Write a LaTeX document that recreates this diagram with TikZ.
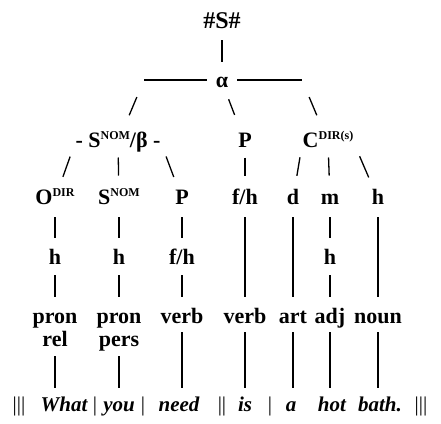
\documentclass[tikz,border=0pt]{standalone}
\usepackage{fontspec}
\setmainfont{Liberation Serif}
\newcommand{\supc}[1]{\raisebox{7.5pt}{\fontsize{12}{12}\selectfont\bfseries #1}}

\begin{document}
\begin{tikzpicture}[x=1pt, y=-1pt,
  lbl/.style ={font=\fontsize{22}{25}\selectfont\bfseries, anchor=base,
               text height=15pt, text depth=5pt, inner sep=0pt},
  wrd/.style ={lbl, font=\fontsize{21}{25}\selectfont\bfseries\itshape},
  bar/.style ={lbl, font=\fontsize{21}{25}\selectfont},
  ln/.style  ={line width=1.3pt},
  vl/.style 2 args={ln, shorten <=#1, shorten >=#2},
  tick/.style ={ln, shorten <=18.5pt, shorten >=29pt},
  tick2/.style={ln, shorten <=15.5pt, shorten >=23.5pt}
]
  \useasboundingbox (0,0) rectangle (441,423);

  % top of the tree
  \node[lbl, font=\fontsize{24}{25}\selectfont\bfseries] (root) at (222,28) {\#S\#};
  \node[lbl] (alpha) at (222,87) {α};
  \coordinate (barL) at (144,80);
  \coordinate (barR) at (302,80);

  \node[lbl] (SB) at (118,147) {- S\supc{NOM}/β -};
  \node[lbl] (P)  at (245,147) {P};
  \node[lbl] (C)  at (328,147) {C\supc{DIR(s)}};

  % functions
  \node[lbl] (OD) at (55,204)  {O\supc{DIR}};
  \node[lbl] (SN) at (119,204) {S\supc{NOM}};
  \node[lbl] (P3) at (182,204) {P};
  \node[lbl] (fh) at (245,204) {f/h};
  \node[lbl] (d)  at (293,204) {d};
  \node[lbl] (m)  at (330,204) {m};
  \node[lbl] (h7) at (378,204) {h};

  \node[lbl] (h1)  at (55,264)  {h};
  \node[lbl] (h2)  at (119,264) {h};
  \node[lbl] (fh3) at (182,264) {f/h};
  \node[lbl] (h6)  at (330,264) {h};

  % word classes
  \node[lbl] (pr1)  at (55,323)  {pron};
  \node[lbl] (pr2)  at (119,323) {pron};
  \node[lbl] (vb3)  at (182,323) {verb};
  \node[lbl] (vb4)  at (245,323) {verb};
  \node[lbl] (art)  at (293,323) {art};
  \node[lbl] (adj)  at (330,323) {adj};
  \node[lbl] (noun) at (378,323) {noun};
  \node[lbl] (rel)  at (55,346)  {rel};
  \node[lbl] (pers) at (119,346) {pers};

  % the clause
  \node[bar] (b0) at (19,411)  {|||};
  \node[wrd] (w1) at (64,411)  {What};
  \node[bar] (b1) at (95,411)  {|};
  \node[wrd] (w2) at (119,411) {you};
  \node[bar] (b2) at (143,411) {|};
  \node[wrd] (w3) at (179,411) {need};
  \node[bar] (b3) at (222,411) {||};
  \node[wrd] (w4) at (245,411) {is};
  \node[bar] (b4) at (270,411) {|};
  \node[wrd] (w5) at (291,411) {a};
  \node[wrd] (w6) at (332,411) {hot};
  \node[wrd] (w7) at (380,411) {bath.};
  \node[bar] (b5) at (421,411) {|||};

  \draw[vl={7pt}{10pt}] (root) -- (alpha);
  \draw[ln, shorten >=9pt] (barL) -- (barL -| alpha.west);
  \draw[ln, shorten <=9pt] (barR -| alpha.east) -- (barR);

  \draw[tick] (barL) -- (SB.center);
  \draw[tick] (alpha.center) -- (P.center);
  \draw[tick] (barR) -- (C.center);

  \draw[tick2] (SB.west)   -- (OD.center);
  \draw[tick2] (SB.center) -- (SN.center);
  \draw[tick2] (SB.east)   -- (P3.center);
  \draw[tick2] (P.center)  -- (fh.center);
  \draw[tick2] (C.west)    -- (d.center);
  \draw[tick2] (C.center)  -- (m.center);
  \draw[tick2] (C.east)    -- (h7.center);

  \draw[vl={8pt}{11pt}] (OD) -- (h1);
  \draw[vl={8pt}{11pt}] (SN) -- (h2);
  \draw[vl={8pt}{11pt}] (P3) -- (fh3);
  \draw[vl={8pt}{11pt}] (m)  -- (h6);
  \draw[vl={6pt}{11pt}] (h1) -- (pr1);
  \draw[vl={6pt}{11pt}] (h2) -- (pr2);
  \draw[vl={6pt}{11pt}] (fh3) -- (vb3);
  \draw[vl={6pt}{11pt}] (h6) -- (adj);
  \draw[vl={8pt}{11pt}] (fh) -- (vb4);
  \draw[vl={8pt}{11pt}] (d)  -- (art);
  \draw[vl={8pt}{11pt}] (h7) -- (noun);

  \draw[vl={5pt}{8pt}] (rel)  -- (rel |- w1.north);
  \draw[vl={5pt}{8pt}] (pers) -- (pers |- w2.north);
  \draw[vl={4pt}{8pt}] (vb3)  -- (vb3 |- w3.north);
  \draw[vl={4pt}{8pt}] (vb4)  -- (vb4 |- w4.north);
  \draw[vl={4pt}{8pt}] (art)  -- (art |- w5.north);
  \draw[vl={4pt}{8pt}] (adj)  -- (adj |- w6.north);
  \draw[vl={4pt}{8pt}] (noun) -- (noun |- w7.north);
\end{tikzpicture}
\end{document}
